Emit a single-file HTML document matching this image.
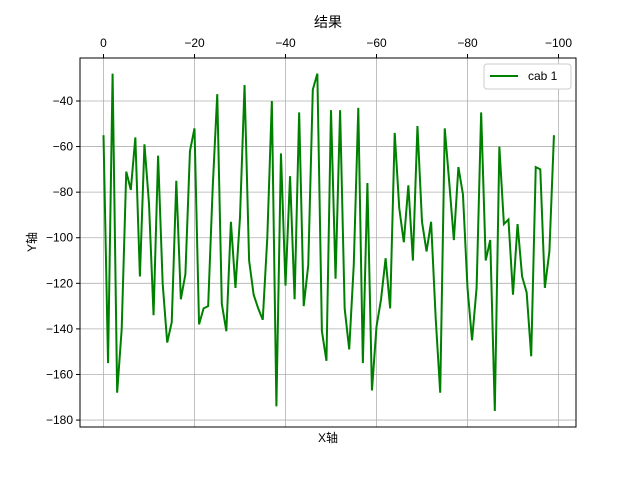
<!DOCTYPE html>
<html><head><meta charset="utf-8"><style>
body{margin:0;background:#fff}
svg text{font-family:"Liberation Sans","Noto Sans CJK SC",sans-serif;font-size:12px;fill:#000}
</style></head><body>
<svg id="chart" width="640" height="480" viewBox="0 0 640 480" xmlns="http://www.w3.org/2000/svg">
<rect width="640" height="480" fill="#fff"/>
<text x="328" y="27" text-anchor="middle" style="font-size:14px">结果</text>
<g id="grid"></g>
<polyline id="line" fill="none" stroke="#008000" stroke-width="2"/>
<rect x="80" y="58" width="496" height="369" fill="none" stroke="#000" stroke-width="1"/>
<g id="ticks"></g>
<text x="328" y="442" text-anchor="middle">X轴</text>
<text x="36" y="242" text-anchor="middle" transform="rotate(-90 36 242)">Y轴</text>
<g>
<rect x="484" y="64" width="87" height="25" rx="3" fill="#fff" stroke="#ccc"/>
<line x1="490" y1="76" x2="518" y2="76" stroke="#008000" stroke-width="2"/>
<text x="528" y="80">cab 1</text>
</g>
</svg>
<script>
const values=[-55,-155,-28,-168,-140,-71,-79,-56,-117,-59,-85,-134,-64,-120,-146,-137,-75,-127,-116,-62,-52,-138,-131,-130,-78,-37,-129,-141,-93,-122,-91,-33,-110,-125,-131,-136,-100,-40,-174,-63,-121,-73,-127,-45,-130,-112,-35,-28,-141,-154,-44,-118,-44,-131,-149,-112,-43,-155,-76,-167,-139,-127,-109,-131,-54,-87,-102,-77,-110,-51,-93,-106,-93,-135,-168,-52,-76,-101,-69,-81,-122,-145,-122,-45,-110,-101,-176,-60,-94,-92,-125,-94,-117,-124,-152,-69,-70,-122,-106,-55];
const xTicks=[0,-20,-40,-60,-80,-100];
const yTicks=[-40,-60,-80,-100,-120,-140,-160,-180];
const NS="http://www.w3.org/2000/svg";
function xs(v){return 103.5+(-v)*4.55;}
function ys(v){return 101+(-40-v)*2.279;}
const grid=document.getElementById('grid'),ticks=document.getElementById('ticks');
function mk(tag,attrs,parent){const e=document.createElementNS(NS,tag);for(const k in attrs)e.setAttribute(k,attrs[k]);parent.appendChild(e);return e;}
xTicks.forEach(t=>{const x=xs(t);
 const g=mk('line',{x1:x,x2:x,y1:58,y2:427,stroke:'#b0b0b0','stroke-width':0.8},grid);
 
 
 mk('line',{x1:x,x2:x,y1:58,y2:54,stroke:'#000'},ticks);
 const tx=mk('text',{x:x,y:47,'text-anchor':'middle'},ticks);
 
 
 tx.textContent=t===0?'0':'\u2212'+(-t);});
yTicks.forEach(t=>{const y=ys(t);
 const g=mk('line',{x1:80,x2:576,y1:y,y2:y,stroke:'#b0b0b0','stroke-width':0.8},grid);
 
 
 mk('line',{x1:76,x2:80,y1:y,y2:y,stroke:'#000'},ticks);
 const tx=mk('text',{x:73,y:y+4,'text-anchor':'end'},ticks);
 
 
 tx.textContent='\u2212'+(-t);});
document.getElementById('line').setAttribute('points',values.map((v,i)=>xs(-i)+','+ys(v)).join(' '));
</script>
</body></html>
